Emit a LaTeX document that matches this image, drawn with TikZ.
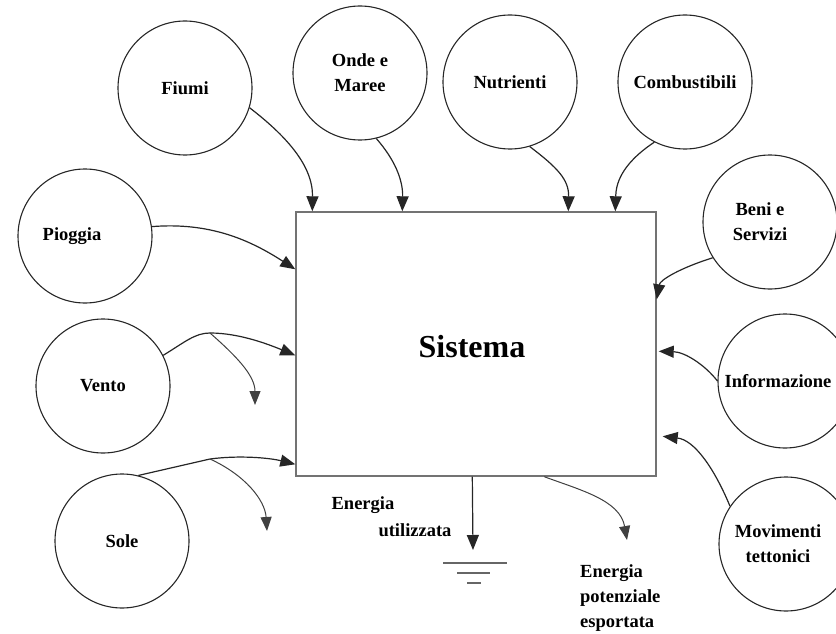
\documentclass[tikz,border=0pt]{standalone}
\usepackage{fontspec}
\setmainfont{Liberation Serif}
\usetikzlibrary{arrows.meta,calc}
\begin{document}
\begin{tikzpicture}[x=1pt,y=-1pt,
  src/.style={draw=black!85,circle,line width=1.1pt,minimum size=134pt,inner sep=0pt,align=center,
              font=\fontsize{18.5}{25}\selectfont\bfseries},
  sysbox/.style={draw=black!55,line width=1.4pt,minimum width=360pt,minimum height=264pt,inner sep=0pt,
              font=\fontsize{32}{36}\selectfont\bfseries},
  lab/.style={font=\fontsize{18.5}{25}\selectfont\bfseries,inner sep=0pt,align=left},
  flow/.style={draw=black!85,line width=1.2pt,-{Triangle[length=15pt,width=12pt]}},
  thinflow/.style={draw=black!75,line width=1pt,-{Triangle[length=14pt,width=11pt]}},
  gnd/.style={draw=black!60,line width=2pt}]
\useasboundingbox (0,0) rectangle (836,634);

\node[sysbox] (sys) at (476,344) {};
\node[font=\fontsize{32}{36}\selectfont\bfseries,inner sep=0pt] (systxt) at (472,347) {Sistema};

\node[src] (fiumi) at (185,88) {Fiumi};
\node[src] (onde) at (360,73) {Onde e\\Maree};
\node[src] (nutr) at (510,82) {Nutrienti};
\node[src] (comb) at (685,82) {Combustibili};
\node[src,label={[label distance=0pt,xshift=-13pt,font=\fontsize{18.5}{25}\selectfont\bfseries]center:Pioggia}] (piog) at (85,236) {};
\node[src] (vento) at (103,386) {Vento};
\node[src] (sole) at (122,541) {Sole};
\node[src] (beni) at (770,222) {\hspace*{-20pt}Beni e\\\hspace*{-20pt}Servizi};
\node[src,label={[label distance=0pt,xshift=-7pt,font=\fontsize{18.5}{25}\selectfont\bfseries]center:Informazione}] (info) at (785,381) {};
\node[src] (movi) at (786,544) {\hspace*{-16pt}Movimenti\\\hspace*{-16pt}tettonici};

% top inputs
\draw[flow] (fiumi.-17) .. controls (285,135) and (313,165) .. ([xshift=17pt]sys.north west);
\draw[flow] (onde.-76) .. controls (395,160) and (403,180) .. ([xshift=107pt]sys.north west);
\draw[flow] (nutr.-73) .. controls (558,168) and (569,180) .. ([xshift=273pt]sys.north west);
\draw[flow] (comb.-117) .. controls (620,165) and (616,185) .. ([xshift=320pt]sys.north west);

% left inputs
\draw[flow] (piog.8) .. controls (210,222) and (250,240) .. ([yshift=-58pt]sys.north west);
\coordinate (vsplit) at (210,333);
\coordinate (vtip) at (255,405);
\draw[flow] (vento.27) .. controls (185,342) and (195,333) .. (vsplit)
   .. controls (240,333) and (270,345) .. ([yshift=-144pt]sys.north west);
\draw[thinflow] (vsplit) .. controls (235,355) and (255,375) .. (vtip);
\coordinate (ssplit) at (210,459);
\coordinate (stip) at (267,531);
\draw[flow] (sole.76) -- (ssplit)
   .. controls (240,455) and (270,458) .. ([yshift=-253pt]sys.north west);
\draw[thinflow] (ssplit) .. controls (245,475) and (265,500) .. (stip);

% right inputs
\draw[flow] (beni.-148) .. controls (680,268) and (660,280) .. ([yshift=-88pt]sys.north east);
\draw[flow] (info.180) .. controls (705,365) and (685,352) .. ([xshift=2pt,yshift=-140pt]sys.north east);
\draw[flow] (movi.146) .. controls (715,470) and (695,440) .. ([xshift=6pt,yshift=-225pt]sys.north east);

% outputs
\coordinate (gtip) at (473,550);
\draw[flow] ([xshift=177pt]sys.south west) -- (gtip);
\coordinate (g1a) at (443,563); \coordinate (g1b) at (507,563);
\coordinate (g2a) at (457,573); \coordinate (g2b) at (490,573);
\coordinate (g3a) at (467,583); \coordinate (g3b) at (481,583);
\draw[gnd] (g1a) -- (g1b);
\draw[gnd] (g2a) -- (g2b);
\draw[gnd] (g3a) -- (g3b);
\node[lab] (eu1) at (363,505) {Energia};
\node[lab] (eu2) at (415,530) {utilizzata};

\coordinate (etip) at (627,540);
\draw[thinflow] ([xshift=249pt]sys.south west) .. controls (580,490) and (620,500) .. (etip);
\node[lab,anchor=west] (exp) at (580,598) {Energia\\potenziale\\esportata};
\end{tikzpicture}
\end{document}
